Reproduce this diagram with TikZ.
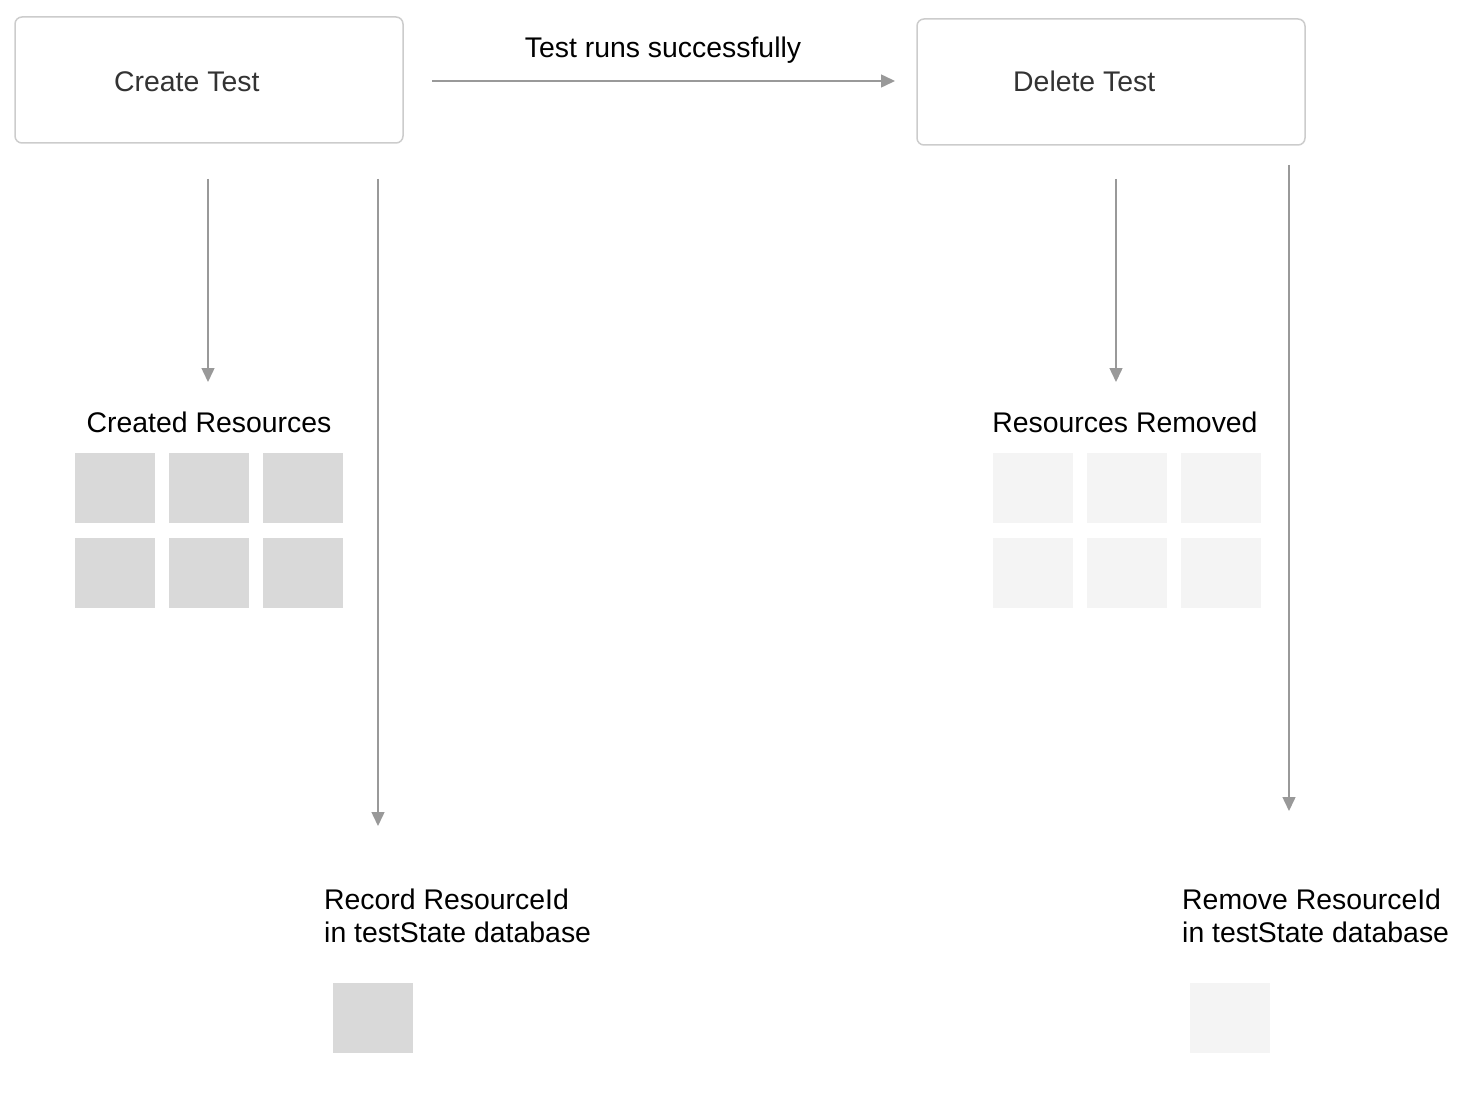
\documentclass[tikz,border=0pt]{standalone}
\usepackage{fontspec}
\setmainfont{Liberation Sans}
\usetikzlibrary{arrows.meta}
\definecolor{boxline}{HTML}{CCCCCC}
\definecolor{arrowc}{HTML}{999999}
\definecolor{resdark}{HTML}{D9D9D9}
\definecolor{reslight}{HTML}{F4F4F4}
\definecolor{boxtext}{HTML}{333333}
\tikzset{
  stepbox/.style={draw=boxline, line width=1.5pt, rounded corners=7pt, fill=white},
  boxlabel/.style={text=boxtext, font=\fontsize{28.4}{34}\selectfont, inner sep=0pt, anchor=base west},
  plain/.style={text=black, font=\fontsize{28.4}{34}\selectfont, inner sep=0pt},
  flow/.style={draw=arrowc, line width=1.5pt, -{Triangle[length=14pt,width=13pt]}},
  resA/.style={fill=resdark, draw=none},
  resB/.style={fill=reslight, draw=none}
}
\begin{document}
\begin{tikzpicture}[x=1pt,y=-1pt]
\useasboundingbox (0,0) rectangle (1468,1102);
% boxes
\draw[stepbox] (15,17) rectangle (403,143);
\node[boxlabel] (create) at (114,92) {Create Test};
\draw[stepbox] (917,19) rectangle (1305,145);
\node[boxlabel] (delete) at (1013,92) {Delete Test};
% horizontal arrow
\coordinate (h1) at (432,81);
\coordinate (h2) at (895,81);
\draw[flow] (h1) -- (h2);
\node[plain, anchor=base] (runs) at (663,58) {Test runs successfully};
% vertical arrows
\coordinate (a1) at (208,179); \coordinate (a2) at (208,382);
\coordinate (b1) at (378,179); \coordinate (b2) at (378,826);
\coordinate (c1) at (1116,179); \coordinate (c2) at (1116,382);
\coordinate (d1) at (1289,165); \coordinate (d2) at (1289,811);
\draw[flow] (a1) -- (a2);
\draw[flow] (b1) -- (b2);
\draw[flow] (c1) -- (c2);
\draw[flow] (d1) -- (d2);
% labels
\node[plain, anchor=base] (created) at (209,432) {Created Resources};
\node[plain, anchor=base] (removed) at (1125,432) {Resources Removed};
\node[plain, anchor=base west] (rec1) at (324,909) {Record ResourceId};
\node[plain, anchor=base west] (rec2) at (324,942) {in testState database};
\node[plain, anchor=base west] (rem1) at (1182,909) {Remove ResourceId};
\node[plain, anchor=base west] (rem2) at (1182,942) {in testState database};
% resource grids
\foreach \x in {75,169,263} {
  \fill[resA] (\x,453) rectangle ++(80,70);
  \fill[resA] (\x,538) rectangle ++(80,70);
}
\foreach \x in {993,1087,1181} {
  \fill[resB] (\x,453) rectangle ++(80,70);
  \fill[resB] (\x,538) rectangle ++(80,70);
}
\fill[resA] (333,983) rectangle ++(80,70);
\fill[resB] (1190,983) rectangle ++(80,70);
\end{tikzpicture}
\end{document}
